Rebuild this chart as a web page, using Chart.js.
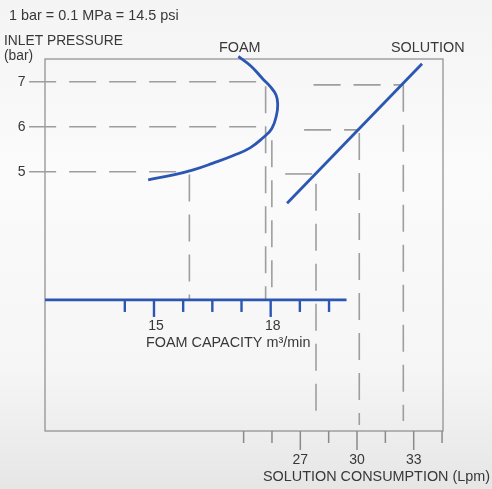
<!DOCTYPE html>
<html>
<head>
<meta charset="utf-8">
<script src="https://cdn.jsdelivr.net/npm/chart.js@4.4.1/dist/chart.umd.min.js"></script>
<style>
html,body{margin:0;padding:0;background:#fff;}
#wrap{width:492px;height:489px;position:relative;}
</style>
</head>
<body>
<div id="wrap"><canvas id="c" width="492" height="489"></canvas></div>
<script>
// ---- data ----
const pressureTicks = [5, 6, 7];                        // bar
const foamTicks = [14.25, 15, 15.75, 16.5, 17.25, 18, 18.75, 19.5];
const foamLabels = [15, 18];                            // m3/min
const solutionTicks = [24, 25.5, 27, 28.5, 30, 31.5, 33, 34.5];
const solutionLabels = [27, 30, 33];                    // Lpm

// FOAM curve: capacity (m3/min) vs inlet pressure (bar)
const foamCapacity = [14.85, 15.50, 16.01, 16.52, 17.04, 17.47, 17.81, 18.03, 18.15, 18.18, 18.14, 17.98, 17.80, 17.49, 17.17];
const foamPressure = [4.82, 4.93, 5.04, 5.19, 5.36, 5.53, 5.76, 5.96, 6.26, 6.48, 6.70, 6.90, 7.06, 7.35, 7.56];

// SOLUTION line: consumption (Lpm) vs inlet pressure (bar)
const solutionFlow = [26.3, 33.44];
const solutionPressure = [4.30, 7.40];

// guide readings
const foamGuidePressure = [7, 6, 5];
const foamGuideCapacityEnd = [17.78, 17.81, 15.62];
const foamReadCapacity = [17.87, 18.03, 15.91];
const foamReadFromPressure = [6.9, 5.7, 4.94];
const solutionGuidePressure = [6.93, 5.93, 4.95];
const solutionGuideFlowStart = [27.7, 27.2, 26.2];
const solutionReadFlow = [32.45, 30.12, 27.83];
const solutionReadFromPressure = [6.93, 5.86, 4.73];
const solutionReadToPressure = [-0.54, -0.63, -0.52];

// axis ranges
const foamAxisPressure = 2.15;
const foamAxisRange = [12.2, 19.95];
const foamGuideStart = 11.79;
const foamReadBottom = 2.15;

const BLUE = '#2b57b3';
const GRAY = '#9e9e9e';
const TEXT = '#383838';
const FONT = '"Liberation Sans", Arial, Helvetica, sans-serif';

function pts(xs, ys){ return xs.map((x,i)=>({x:x, y:ys[i]})); }

const datasets = [];
function guide(xAxisID, data){
  datasets.push({type:'line', xAxisID, yAxisID:'y', data, borderColor:GRAY, borderWidth:1.6,
    borderDash:[27,13], pointRadius:0, fill:false, tension:0, clip:false, order:5});
}
foamGuidePressure.forEach((p,i)=>guide('x', [{x:foamGuideStart,y:p},{x:foamGuideCapacityEnd[i],y:p}]));
foamReadCapacity.forEach((c,i)=>guide('x', [{x:c,y:foamReadFromPressure[i]},{x:c,y:foamReadBottom}]));
solutionGuidePressure.forEach((p,i)=>guide('xs', [{x:solutionGuideFlowStart[i],y:p},{x:solutionReadFlow[i],y:p}]));
solutionReadFlow.forEach((s,i)=>guide('xs', [{x:s,y:solutionReadFromPressure[i]},{x:s,y:solutionReadToPressure[i]}]));

datasets.push({type:'line', label:'FOAM', xAxisID:'x', yAxisID:'y', data:pts(foamCapacity, foamPressure),
  borderColor:BLUE, borderWidth:2.8, pointRadius:0, tension:0.45, fill:false, clip:false, order:1});
datasets.push({type:'line', label:'SOLUTION', xAxisID:'xs', yAxisID:'y', data:pts(solutionFlow, solutionPressure),
  borderColor:BLUE, borderWidth:2.8, pointRadius:0, tension:0, fill:false, clip:false, order:1});

const bgPlugin = {
  id:'bg',
  beforeDraw(chart){
    const c = chart.ctx;
    const g = c.createLinearGradient(0,0,0,chart.height);
    g.addColorStop(0,'#f4f4f4');
    g.addColorStop(0.35,'#fbfbfb');
    g.addColorStop(0.75,'#f6f6f6');
    g.addColorStop(1,'#e6e6e6');
    c.save(); c.fillStyle = g; c.fillRect(0,0,chart.width,chart.height); c.restore();
  }
};

const nomoPlugin = {
  id:'nomo',
  beforeDatasetsDraw(chart){
    const c = chart.ctx, a = chart.chartArea;
    c.save();
    c.strokeStyle = '#8a8a8a'; c.lineWidth = 1.2;
    c.strokeRect(a.left, a.top, a.right-a.left, a.bottom-a.top);
    c.restore();
  },
  afterDatasetsDraw(chart){
    const c = chart.ctx, a = chart.chartArea;
    const X = chart.scales.x, XS = chart.scales.xs, Y = chart.scales.y;
    c.save();
    // foam capacity axis (blue)
    const fy = Y.getPixelForValue(foamAxisPressure);
    c.strokeStyle = BLUE; c.lineWidth = 2.8; c.lineCap = 'butt';
    c.beginPath(); c.moveTo(X.getPixelForValue(foamAxisRange[0]), fy); c.lineTo(X.getPixelForValue(foamAxisRange[1]), fy); c.stroke();
    c.lineWidth = 2.4;
    foamTicks.forEach(t=>{
      const px = X.getPixelForValue(t);
      const len = foamLabels.includes(t) ? 17 : 12;
      c.beginPath(); c.moveTo(px, fy); c.lineTo(px, fy+len); c.stroke();
    });
    // solution axis ticks (gray, below box)
    c.strokeStyle = '#8a8a8a'; c.lineWidth = 1.5;
    solutionTicks.forEach(t=>{
      const px = XS.getPixelForValue(t);
      const len = solutionLabels.includes(t) ? 19 : 12;
      c.beginPath(); c.moveTo(px, a.bottom); c.lineTo(px, a.bottom+len); c.stroke();
    });
    // texts
    c.fillStyle = TEXT;
    c.textBaseline = 'middle';
    c.font = '14px ' + FONT;
    c.textAlign = 'right';
    pressureTicks.forEach(p=>{ c.fillText(String(p), 25.5, Y.getPixelForValue(p)); });
    c.textAlign = 'center';
    foamLabels.forEach(f=>{ c.fillText(String(f), X.getPixelForValue(f)+2, fy+26.5); });
    solutionLabels.forEach(s=>{ c.fillText(String(s), XS.getPixelForValue(s), a.bottom+29); });
    c.textAlign = 'left';
    c.font = '14.4px ' + FONT;
    c.fillText('1 bar = 0.1 MPa = 14.5 psi', 9, 16.5);
    c.fillText('FOAM', 219, 48);
    c.fillText('SOLUTION', 391, 48);
    c.fillText('FOAM CAPACITY m\u00B3/min', 146, fy+43.5);
    c.fillText('SOLUTION CONSUMPTION (Lpm)', 263, a.bottom+46.5);
    c.font = '13.8px ' + FONT;
    c.fillText('INLET PRESSURE', 4, 41);
    c.fillText('(bar)', 4, 56);
    c.restore();
  }
};

new Chart(document.getElementById('c'), {
  data:{ datasets },
  options:{
    responsive:false,
    animation:false,
    devicePixelRatio:1,
    layout:{ padding:{ left:45, top:59, right:49, bottom:58 } },
    plugins:{ legend:{display:false}, tooltip:{enabled:false} },
    scales:{
      x:{ type:'linear', display:false, min:12.198, max:22.43 },
      xs:{ type:'linear', display:false, min:13.49, max:34.55 },
      y:{ type:'linear', display:false, min:-0.762, max:7.504 }
    }
  },
  plugins:[bgPlugin, nomoPlugin]
});
</script>
</body>
</html>
